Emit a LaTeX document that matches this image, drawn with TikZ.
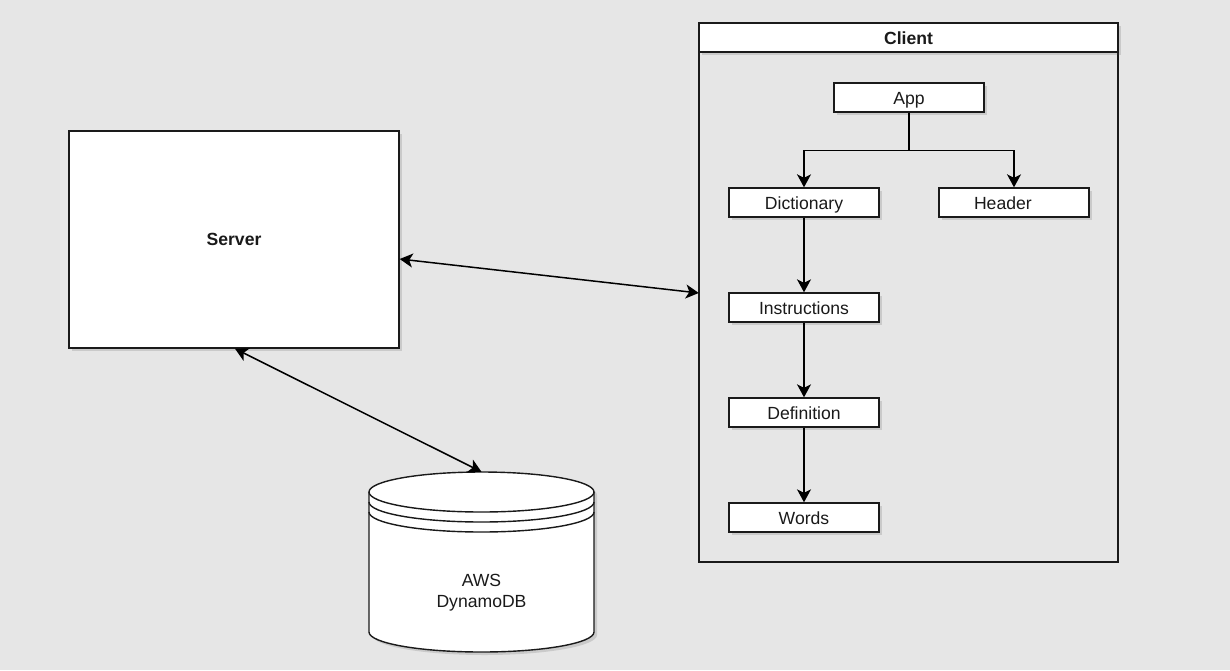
\documentclass[tikz,border=0pt]{standalone}
\usepackage{fontspec}
\setmainfont{Liberation Sans}
\usetikzlibrary{arrows.meta,shadows}
\definecolor{bg}{HTML}{E6E6E6}
\definecolor{ink}{HTML}{1A1A1A}
\tikzset{
  shad/.style={drop shadow={shadow xshift=3pt,shadow yshift=-3pt,opacity=0.18,fill=black!70}},
  box/.style={draw=ink,fill=white,line width=1.4pt,shad,inner sep=0pt,
    font=\fontsize{17.6}{21}\selectfont,text=ink},
  comp/.style={box,minimum width=150pt,minimum height=29pt,text depth=0pt,text height=14pt},
  arr/.style={draw=black,line width=1.5pt,-{Stealth[length=13pt,width=14pt,inset=3.5pt]}},
  biarr/.style={draw=black,line width=1.5pt,{Stealth[length=13pt,width=14pt,inset=3.5pt]}-{Stealth[length=13pt,width=14pt,inset=3.5pt]}},
}
\begin{document}
\begin{tikzpicture}[x=1pt,y=-1pt]
\useasboundingbox[fill=bg] (0,0) rectangle (1230,670);

% Server
\node[box,minimum width=330pt,minimum height=217pt,font=\fontsize{17.6}{21}\selectfont\bfseries] (server) at (234,239.5) {Server};

% Client container (unfilled body, white header)
\draw[draw=ink,line width=1.4pt] (699,23) rectangle (1118,562);
\node[draw=none,inner sep=0pt,minimum width=419pt,minimum height=539pt] (client) at (908.5,292.5) {};
\node[box,drop shadow={opacity=0},minimum width=419pt,minimum height=29pt,text depth=0pt,text height=14pt,font=\fontsize{17.6}{21}\selectfont\bfseries] (clienthead) at (908.5,37.5) {Client};

% Components
\node[comp] (app)   at (909,97.5)  {App};
\node[comp] (dict)  at (804,202.5) {Dictionary};
\node[comp,text width=150pt,align=left] (head) at (1014,202.5) {\hspace*{35pt}Header};
\node[comp] (instr) at (804,307.5) {Instructions};
\node[comp] (defn)  at (804,412.5) {Definition};
\node[comp] (words) at (804,517.5) {Words};

% Client edges
\draw[arr] (app.south) -- ++(0,38) -| (dict.north);
\draw[arr] (app.south) -- ++(0,38) -| (head.north);
\draw[arr] (dict.south) -- (instr.north);
\draw[arr] (instr.south) -- (defn.north);
\draw[arr] (defn.south) -- (words.north);

% Database cylinder
\fill[black!70,opacity=0.18] (372,495) -- (372,635)
  arc[start angle=180,end angle=360,x radius=112.5pt,y radius=20pt]
  -- (597,495) arc[start angle=0,end angle=180,x radius=112.5pt,y radius=20pt] -- cycle;
\filldraw[draw=ink,fill=white,line width=1.4pt] (369,492) -- (369,632)
  arc[start angle=180,end angle=360,x radius=112.5pt,y radius=20pt]
  -- (594,492) arc[start angle=0,end angle=180,x radius=112.5pt,y radius=20pt] -- cycle;
\draw[draw=ink,line width=1.4pt] (369,492) arc[start angle=180,end angle=360,x radius=112.5pt,y radius=20pt];
\draw[draw=ink,line width=1.4pt] (369,502) arc[start angle=180,end angle=360,x radius=112.5pt,y radius=20pt];
\draw[draw=ink,line width=1.4pt] (369,512) arc[start angle=180,end angle=360,x radius=112.5pt,y radius=20pt];
\node[inner sep=0pt,minimum width=225pt,minimum height=180pt] (db) at (481.5,562) {};
\node[align=center,text=ink,font=\fontsize{17.6}{21}\selectfont] (dblabel) at (481.5,592.5) {AWS\\DynamoDB};

% Connectors
\draw[biarr] ([yshift=-19.5pt]server.east) -- ([yshift=-0.5pt]client.west);
\draw[biarr] ([xshift=1pt]server.south) -- (db.north);
\end{tikzpicture}
\end{document}
